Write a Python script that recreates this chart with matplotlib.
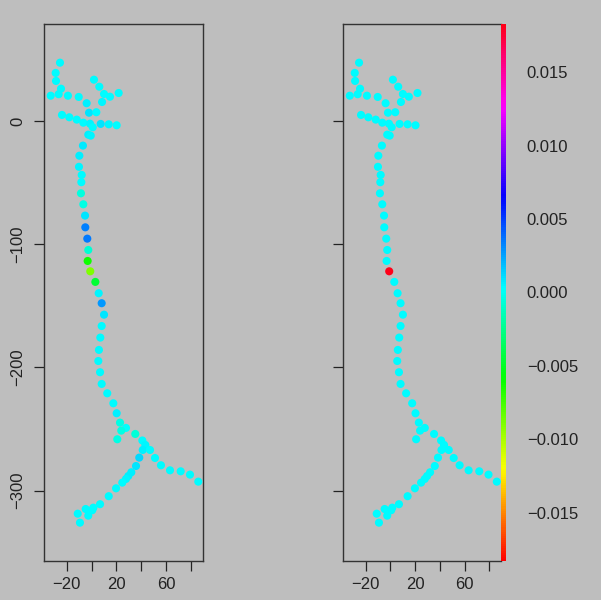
import matplotlib
matplotlib.use("Agg")
import matplotlib.pyplot as plt
from matplotlib.colors import Normalize
from matplotlib.cm import ScalarMappable
from matplotlib.ticker import FuncFormatter

plt.rcParams['font.family'] = ['Liberation Sans', 'DejaVu Sans']

# Node coordinates of the traced arbor (microns)
node_x = [-25.4, -28.9, -28.6, -24.6, -32.9, -26.5, -19.0, -10.3, -3.9, 2.0,
          6.3, 10.1, 14.9, 21.9, 8.5, -2.0, 3.9, -23.8, -17.9, -11.9,
          -6.6, -1.2, 1.0, 7.4, 13.9, 20.3, -2.6, -0.6, -6.9, -9.8,
          -10.1, -7.9, -8.2, -8.5, -6.6, -5.2, -5.0, -3.4, -2.6, -3.1,
          -1.0, 3.1, 5.8, 8.2, 10.1, 8.2, 7.1, 6.0, 5.5, 6.9,
          8.2, 12.7, 17.6, 20.3, 23.0, 27.8, 24.0, 35.3, 20.8, 41.0,
          43.4, 41.3, 47.2, 38.5, 51.2, 35.9, 56.0, 32.1, 29.7, 27.8,
          24.8, 63.3, 71.9, 79.4, 86.1, 19.8, 13.9, 6.9, 1.5, 0.6,
          -4.7, -2.6, -11.1, -9.3]
node_y = [47.3, 39.0, 32.5, 26.2, 20.5, 21.7, 20.5, 19.5, 14.4, 33.5,
          27.8, 21.9, 19.7, 22.7, 15.4, 6.7, 7.1, 4.9, 3.0, 1.1,
          -1.4, -2.2, -5.1, -2.4, -2.7, -3.5, -11.1, -11.9, -20.0, -28.2,
          -37.2, -43.8, -49.7, -58.7, -67.6, -76.8, -86.3, -95.5, -104.7, -113.6,
          -122.0, -130.6, -139.8, -147.9, -157.2, -166.4, -175.8, -185.8, -194.8, -203.9,
          -213.4, -221.0, -229.1, -237.2, -244.8, -249.1, -251.3, -254.0, -258.3, -259.3,
          -262.9, -267.0, -267.0, -273.2, -273.5, -280.0, -279.4, -285.1, -288.1, -290.5,
          -293.5, -283.5, -284.3, -287.0, -292.7, -298.1, -304.5, -311.0, -313.8, -315.9,
          -314.9, -320.3, -318.7, -326.0]

# Per-node statistic, raw estimate
local_stat = [0.0003, 0.0003, 0.0003, 0.0004, 0.0003, 0.0003, 0.0003, 0.0004, 0.0007, 0.0003,
              0.0004, 0.0003, 0.0003, 0.0003, 0.0005, 0.0010, 0.0004, 0.0003, 0.0003, 0.0003,
              0.0004, 0.0005, 0.0004, 0.0010, 0.0005, 0.0003, 0.0006, 0.0005, 0.0008, 0.0006,
              0.0005, 0.0004, 0.0003, -0.0005, -0.0003, 0.0009, 0.0033, 0.0035, -0.0008, -0.0062,
              -0.0090, -0.0047, 0.0005, 0.0028, 0.0009, 0.0004, 0.0004, 0.0003, 0.0003, 0.0003,
              0.0003, 0.0004, 0.0003, 0.0006, -0.0003, 0.0002, -0.0003, -0.0007, -0.0004, 0.0003,
              0.0005, 0.0007, 0.0003, 0.0012, 0.0003, 0.0009, 0.0003, 0.0006, 0.0006, 0.0005,
              0.0004, 0.0003, 0.0003, 0.0003, 0.0003, 0.0004, 0.0003, 0.0003, 0.0003, 0.0003,
              0.0003, 0.0003, 0.0003, 0.0003]

# Per-node statistic, smoothed estimate
signal_stat = [0.0003, 0.0003, 0.0003, 0.0003, 0.0003, 0.0003, 0.0003, 0.0003, 0.0003, 0.0003,
               0.0003, 0.0003, 0.0003, 0.0003, 0.0003, 0.0003, 0.0003, 0.0003, 0.0003, 0.0003,
               0.0003, 0.0003, 0.0003, 0.0003, 0.0003, 0.0003, 0.0003, 0.0003, 0.0003, 0.0003,
               0.0003, 0.0003, 0.0003, 0.0003, 0.0003, 0.0003, 0.0003, 0.0003, 0.0003, 0.0003,
               0.0183, 0.0003, 0.0003, 0.0003, 0.0003, 0.0003, 0.0003, 0.0003, 0.0003, 0.0003,
               0.0003, 0.0003, 0.0003, 0.0003, 0.0003, 0.0003, 0.0003, 0.0003, 0.0003, 0.0003,
               0.0003, 0.0003, 0.0003, 0.0003, 0.0003, 0.0003, 0.0003, 0.0003, 0.0003, 0.0003,
               0.0003, 0.0003, 0.0003, 0.0003, 0.0003, 0.0003, 0.0003, 0.0003, 0.0003, 0.0003,
               0.0003, 0.0003, 0.0003, 0.0003]

x_ticks = [-20, 0, 20, 40, 60, 80]
x_tick_labels = ['\u221220', '', '20', '', '60', '']
y_ticks = [0, -100, -200, -300]
y_tick_labels = ['0', '\u2212100', '\u2212200', '\u2212300']
cbar_ticks = [-0.015, -0.010, -0.005, 0.0, 0.005, 0.010, 0.015]
color_limit = 0.0183

BG = '#bebebe'
W, H = 601, 600
cmap = plt.get_cmap('hsv')
norm = Normalize(vmin=-color_limit, vmax=color_limit)

fig = plt.figure(figsize=(W / 100, H / 100), dpi=100, facecolor=BG)
ax1 = fig.add_axes([44 / W, 39 / H, 159 / W, 537 / H])
ax2 = fig.add_axes([343 / W, 39 / H, 158 / W, 537 / H])
cax = fig.add_axes([501 / W, 39 / H, 5 / W, 537 / H])


def style_panel(ax, xlim, show_ylabels):
    ax.set_facecolor(BG)
    ax.set_xlim(*xlim)
    ax.set_ylim(-357.1, 78.7)
    ax.set_xticks(x_ticks)
    ax.set_xticklabels(x_tick_labels)
    ax.set_yticks(y_ticks)
    if show_ylabels:
        ax.set_yticklabels(y_tick_labels, rotation=90, va='center')
    else:
        ax.set_yticklabels([])
    ax.tick_params(axis='both', length=7.2, width=0.9, color='#222222',
                   labelsize=12, labelcolor='#222222')
    ax.tick_params(axis='x', pad=4)
    ax.tick_params(axis='y', pad=6.5)
    for sp in ax.spines.values():
        sp.set_color('#333333')
        sp.set_linewidth(1.0)


style_panel(ax1, (-38.3, 89.9), True)
style_panel(ax2, (-38.4, 89.5), False)
ax2.spines['right'].set_visible(False)

ax1.scatter(node_x, node_y, c=local_stat, cmap=cmap, norm=norm, s=34,
            edgecolors='none', zorder=3, clip_on=False)
ax2.scatter(node_x, node_y, c=signal_stat, cmap=cmap, norm=norm, s=34,
            edgecolors='none', zorder=3, clip_on=False)

cbar = fig.colorbar(ScalarMappable(norm=norm, cmap=cmap), cax=cax)
cbar.outline.set_visible(False)
cbar.set_ticks(cbar_ticks)
cbar.ax.yaxis.set_major_formatter(
    FuncFormatter(lambda v, p: f"{v:.3f}".replace('-', '\u2212')))
cbar.ax.tick_params(length=0, pad=15, labelsize=12, labelcolor='#222222')

fig.savefig('out.png', dpi=100, facecolor=BG)
